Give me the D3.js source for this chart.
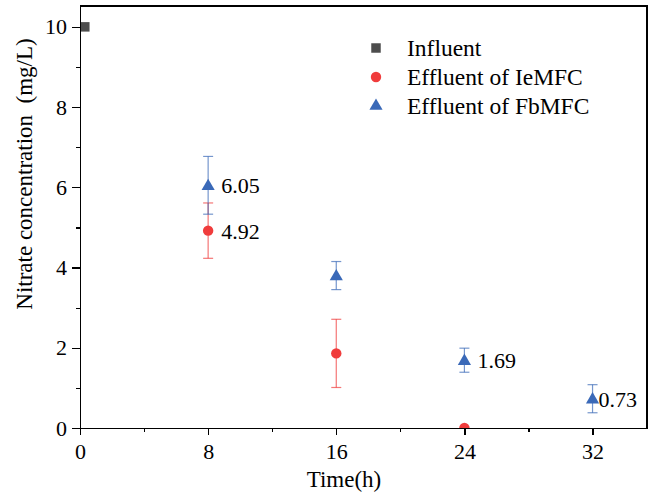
<!DOCTYPE html>
<meta charset="utf-8">
<style>
body { margin: 0; background: #fff; }
svg { font-family: "Liberation Serif", "Times New Roman", serif; }
.axis path, .axis line { stroke: #000; stroke-width: 1.3; shape-rendering: crispEdges; }
.axis text { font-size: 22px; fill: #000; font-family: "Liberation Serif", serif; }
</style>
<svg width="650" height="497"></svg>
<script src="https://d3js.org/d3.v7.min.js"></script>
<script>

// data
var influent = [{t: 0.3, v: 10}];
var ieTimes = [8, 16, 24];
var ieValues = [4.92, 1.86, 0];
var ieErrors = [0.69, 0.85, 0];
var fbTimes = [8, 16, 24, 32];
var fbValues = [6.05, 3.8, 1.69, 0.73];
var fbErrors = [0.72, 0.35, 0.3, 0.35];
var fbLabels = ["6.05", null, "1.69", "0.73"];
var ieLabels = ["4.92", null, null];
var xTicks = [0, 8, 16, 24, 32];
var xMinor = [4, 12, 20, 28];
var yTicks = [0, 2, 4, 6, 8, 10];
var yMinor = [1, 3, 5, 7, 9];
var legendNames = ["Influent", "Effluent of IeMFC", "Effluent of FbMFC"];

var grey = "#4d4d4d", red = "#f03c3c", blue = "#3a69b8";

var svg = d3.select("svg"),
    pLeft = 80, pRight = 647, pTop = 6, pBottom = 428;

var x = d3.scaleLinear().domain([0, 35.4]).range([pLeft, pRight]);
var y = d3.scaleLinear().domain([0, 10.52]).range([pBottom, pTop]);

var ie = ieTimes.map(function(t, i) { return {t: t, v: ieValues[i], e: ieErrors[i], label: ieLabels[i]}; });
var fb = fbTimes.map(function(t, i) { return {t: t, v: fbValues[i], e: fbErrors[i], label: fbLabels[i]}; });

svg.append("clipPath").attr("id", "clip")
  .append("rect").attr("x", pLeft).attr("y", pTop).attr("width", pRight - pLeft).attr("height", pBottom - pTop);

var plot = svg.append("g").attr("clip-path", "url(#clip)");

// error bars
function errorBars(data, color) {
  var g = plot.append("g").attr("stroke", color).attr("stroke-width", 1.2).attr("stroke-opacity", 0.7);
  data.filter(function(d) { return d.e > 0; }).forEach(function(d) {
    var cx = x(d.t);
    g.append("line").attr("x1", cx).attr("x2", cx).attr("y1", y(d.v - d.e)).attr("y2", y(d.v + d.e));
    g.append("line").attr("x1", cx - 5).attr("x2", cx + 5).attr("y1", y(d.v - d.e)).attr("y2", y(d.v - d.e));
    g.append("line").attr("x1", cx - 5).attr("x2", cx + 5).attr("y1", y(d.v + d.e)).attr("y2", y(d.v + d.e));
  });
}
errorBars(ie, red);
errorBars(fb, blue);

var sq = d3.symbol().type(d3.symbolSquare).size(90);
var ci = d3.symbol().type(d3.symbolCircle).size(85);
var tr = d3.symbol().type(d3.symbolTriangle).size(75);

plot.selectAll(".inf").data(influent).enter().append("path")
  .attr("d", sq).attr("fill", grey)
  .attr("transform", function(d) { return "translate(" + x(d.t) + "," + y(d.v) + ")"; });

plot.selectAll(".ie").data(ie).enter().append("path")
  .attr("d", ci).attr("fill", red)
  .attr("transform", function(d) { return "translate(" + x(d.t) + "," + y(d.v) + ")"; });

plot.selectAll(".fb").data(fb).enter().append("path")
  .attr("d", tr).attr("fill", blue)
  .attr("transform", function(d) { return "translate(" + x(d.t) + "," + (y(d.v) + 1) + ")"; });

// value labels
svg.selectAll(".lab").data(fb.concat(ie).filter(function(d) { return d.label; })).enter().append("text")
  .attr("x", function(d) { return x(d.t) + (d.t > 30 ? 6 : 13); })
  .attr("y", function(d) { return y(d.v) + 8; })
  .style("font-size", "22px")
  .text(function(d) { return d.label; });

// axes
svg.append("g").attr("class", "axis")
  .attr("transform", "translate(0," + pBottom + ")")
  .call(d3.axisBottom(x).tickValues(xMinor).tickSize(4).tickFormat(""))
  .call(function(g) { g.select(".domain").remove(); });
svg.append("g").attr("class", "axis")
  .attr("transform", "translate(0," + pBottom + ")")
  .call(d3.axisBottom(x).tickValues(xTicks).tickSize(7).tickPadding(8).tickSizeOuter(0));

svg.append("g").attr("class", "axis")
  .attr("transform", "translate(" + pLeft + ",0)")
  .call(d3.axisLeft(y).tickValues(yMinor).tickSize(4).tickFormat(""))
  .call(function(g) { g.select(".domain").remove(); });
svg.append("g").attr("class", "axis")
  .attr("transform", "translate(" + pLeft + ",0)")
  .call(d3.axisLeft(y).tickValues(yTicks).tickSize(8).tickPadding(5).tickSizeOuter(0));

// frame top/right
svg.append("path").attr("d", "M" + pLeft + "," + pTop + "H" + pRight + "V" + pBottom)
  .attr("fill", "none").attr("stroke", "#000").attr("stroke-width", 1.3).attr("shape-rendering", "crispEdges");

// axis titles
svg.append("text").attr("x", 344).attr("y", 487).attr("text-anchor", "middle")
  .style("font-size", "23px").text("Time(h)");
svg.append("text").attr("transform", "translate(32,174) rotate(-90)").attr("text-anchor", "middle")
  .style("font-size", "23px").style("white-space", "pre").text("Nitrate concentration  (mg/L)");

// legend
var legSyms = [sq, ci, tr], legCols = [grey, red, blue];
var leg = svg.append("g");
legendNames.forEach(function(n, i) {
  var ly = 48 + i * 29;
  leg.append("path").attr("d", legSyms[i]).attr("fill", legCols[i])
    .attr("transform", "translate(376," + ly + ")");
  leg.append("text").attr("x", 407).attr("y", ly + 8).style("font-size", "23.5px").text(n);
});

</script>
